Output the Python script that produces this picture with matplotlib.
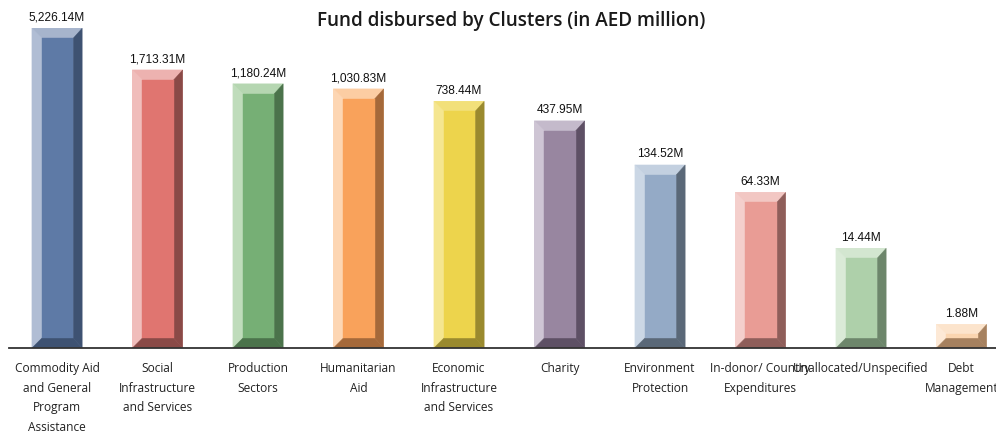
import matplotlib
matplotlib.use("Agg")
import matplotlib.pyplot as plt
from matplotlib.patches import Polygon
import numpy as np

# Fund disbursed per cluster, AED million
clusters = [
    "Commodity Aid\nand General\nProgram\nAssistance",
    "Social\nInfrastructure\nand Services",
    "Production\nSectors",
    "Humanitarian\nAid",
    "Economic\nInfrastructure\nand Services",
    "Charity",
    "Environment\nProtection",
    "In-donor/ Country\nExpenditures",
    "Unallocated/Unspecified",
    "Debt\nManagement",
]
disbursed = [5226.14, 1713.31, 1180.24, 1030.83, 738.44, 437.95, 134.52, 64.33, 14.44, 1.88]

# (front face, top bevel, left bevel, dark side/bottom bevel)
palette = [
    ("#5E7AA6", "#A6B4CC", "#B0BDD4", "#3E5272"),
    ("#E07570", "#EDB2B0", "#F0BDBB", "#8A4A47"),
    ("#76AF75", "#B5D6B1", "#BFDCBB", "#4B734B"),
    ("#F9A25B", "#FCCDA3", "#FDD6B3", "#A5693A"),
    ("#EDD44C", "#F2E07A", "#F5E690", "#9A8A2E"),
    ("#9886A0", "#C4BACB", "#CEC5D4", "#5E5065"),
    ("#94AAC6", "#C3D0E0", "#CBD7E5", "#5A6878"),
    ("#E99C95", "#F2C7C3", "#F4CFCC", "#8F5E5A"),
    ("#AED0AA", "#D3E6D0", "#DAEAD7", "#6D866B"),
    ("#FAD5B0", "#FCE4CC", "#FDE9D6", "#A6815F"),
]

W, H = 996, 434
fig = plt.figure(figsize=(W / 100, H / 100), dpi=100)
ax = fig.add_axes([9 / W, (H - 348) / H, (W - 9) / W, 348 / H])
ax.set_yscale("log")
ax.set_ylim(1, 11140)
ax.set_xlim(-0.478, 9.343)

x = np.arange(len(disbursed))
bar_w = 0.5
ax.bar(x, np.array(disbursed) - 1, bottom=1, width=bar_w,
       color=[p[2] for p in palette], linewidth=0, zorder=2)

# bevelled faces, built in pixel space then mapped back to data coordinates
inv = ax.transData.inverted()
for xi, v, (front, top_c, left_c, dark) in zip(x, disbursed, palette):
    (X0, B), (X1, T) = ax.transData.transform([(xi - bar_w / 2, 1), (xi + bar_w / 2, v)])
    b = min(10.0, (T - B) / 2)
    br = min(9.0, (T - B) / 2)
    faces = [
        ([(X0, T), (X1, T), (X1 - br, T - b), (X0 + b, T - b)], top_c),
        ([(X0, B), (X0, T), (X0 + b, T - b), (X0 + b, B + b)], left_c),
        ([(X1, B), (X1, T), (X1 - br, T - b), (X1 - br, B + b)], dark),
        ([(X0, B), (X1, B), (X1 - br, B + b), (X0 + b, B + b)], dark),
        ([(X0 + b, B + b), (X1 - br, B + b), (X1 - br, T - b), (X0 + b, T - b)], front),
    ]
    for pts, c in faces:
        ax.add_patch(Polygon(inv.transform(pts), closed=True, facecolor=c,
                             edgecolor=c, linewidth=0.3, zorder=3))
    ax.annotate(f"{v:,.2f}M", (xi, v), xytext=(0, 5.5), textcoords="offset points",
                ha="center", va="baseline", fontsize=8.6,
                family="Liberation Sans", color="#111111")

for s in ("left", "right", "top"):
    ax.spines[s].set_visible(False)
ax.spines["bottom"].set_color("#333333")
ax.spines["bottom"].set_linewidth(1.3)
ax.spines["bottom"].set_zorder(4)
ax.set_yticks([])
ax.yaxis.set_minor_locator(matplotlib.ticker.NullLocator())
ax.set_xticks(x)
ax.set_xticklabels(clusters, fontsize=8.6, family="Open Sans",
                   linespacing=1.68, color="#222222")
ax.tick_params(axis="x", length=0, pad=10)
for lbl in ax.get_xticklabels():
    lbl.set_clip_on(False)

fig.text(0.513, 1 - 21 / H, "Fund disbursed by Clusters (in AED million)",
         ha="center", va="center", fontsize=13.6, family="Open Sans",
         fontweight="semibold", color="#1a1a1a")

fig.savefig("out.png", dpi=100)
